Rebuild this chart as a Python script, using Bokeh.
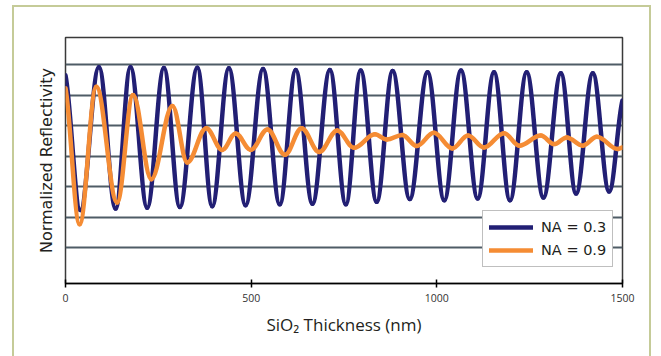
from bokeh.plotting import figure
from bokeh.models import Range1d, FixedTicker, Legend, LegendItem
from bokeh.embed import file_html
from bokeh.resources import INLINE

# ---- data (peaks / troughs of each curve, plus end points)
blue_x = [0, 40, 90, 135, 175, 220, 265, 308, 355, 395, 440, 485, 532, 577, 620, 665, 712,
          755, 795, 838, 881, 927, 975, 1020, 1065, 1110, 1154, 1197, 1242, 1287, 1334,
          1375, 1420, 1464, 1500]
blue_y = [0.665, 0.224, 0.692, 0.229, 0.692, 0.232, 0.689, 0.234, 0.690, 0.237, 0.688,
          0.240, 0.686, 0.243, 0.683, 0.245, 0.683, 0.243, 0.681, 0.251, 0.679, 0.260,
          0.675, 0.256, 0.681, 0.262, 0.675, 0.256, 0.675, 0.265, 0.672, 0.278, 0.672,
          0.285, 0.583]

orange_x = [0, 38, 83, 139, 182, 231, 288, 328, 379, 422, 458, 499, 544, 591, 636, 683,
            732, 777, 833, 865, 907, 946, 992, 1042, 1084, 1127, 1181, 1222, 1280, 1316,
            1350, 1393, 1431, 1487, 1500]
orange_y = [0.623, 0.178, 0.628, 0.249, 0.601, 0.325, 0.565, 0.380, 0.492, 0.421, 0.475,
            0.421, 0.488, 0.405, 0.492, 0.414, 0.485, 0.428, 0.472, 0.455, 0.470, 0.434,
            0.477, 0.426, 0.468, 0.429, 0.476, 0.435, 0.468, 0.440, 0.462, 0.435, 0.464,
            0.424, 0.429]

series_labels = ["NA = 0.3", "NA = 0.9"]
x_ticks = [0, 500, 1000, 1500]
grid_levels = [0.1, 0.2, 0.3, 0.4, 0.5, 0.6, 0.7]

BLUE = "#221f74"
ORANGE = "#f58c34"

p = figure(width=661, height=356, output_backend="svg", toolbar_location=None,
           x_range=Range1d(0, 1500), y_range=Range1d(-0.0162, 0.789))
p.min_border = 0
p.min_border_left = 65
p.min_border_right = 39
p.min_border_top = 37
p.min_border_bottom = 73
p.background_fill_color = "white"
p.border_fill_color = "white"
p.outline_line_color = "#3a3a3a"
p.outline_line_width = 1.5

# outer panel border (CSS only, drawn around the chart like the reference frame)
p.stylesheets = [
    ":host { position: relative; }"
    ":host::after { content: ''; position: absolute; left: 12px; top: 5px; right: 10px;"
    " bottom: 0px; border: 2px solid #c5cb98; border-bottom: none; pointer-events: none; }"
]

# grid
p.xgrid.grid_line_color = None
p.ygrid.ticker = FixedTicker(ticks=grid_levels)
p.ygrid.grid_line_color = "#4e5c66"
p.ygrid.grid_line_width = 2

# x axis
xa = p.xaxis[0]
xa.ticker = FixedTicker(ticks=x_ticks)
xa.minor_tick_line_color = None
xa.major_tick_in = 4
xa.major_tick_out = 4
xa.major_tick_line_color = "black"
xa.major_tick_line_width = 1.5
xa.axis_line_color = "black"
xa.axis_line_width = 1.5
xa.major_label_text_font = "Open Sans"
xa.major_label_text_font_size = "10.5px"
xa.major_label_text_color = "#333333"
xa.major_label_standoff = 6
xa.axis_label = "SiO\u2082 Thickness (nm)"
xa.axis_label_text_font = "Open Sans"
xa.axis_label_text_font_size = "17px"
xa.axis_label_text_font_style = "normal"
xa.axis_label_text_color = "#231f20"
xa.axis_label_standoff = 8

# y axis (label only)
ya = p.yaxis[0]
ya.ticker = FixedTicker(ticks=[])
ya.axis_line_color = None
ya.major_tick_line_color = None
ya.minor_tick_line_color = None
ya.axis_label = "Normalized Reflectivity"
ya.axis_label_text_font = "DejaVu Sans"
ya.axis_label_text_font_size = "16px"
ya.axis_label_text_font_style = "normal"
ya.axis_label_text_color = "#231f20"
ya.axis_label_standoff = 10

K = 0.364


def smooth_segments(xs, ys):
    n = len(xs)
    x0, y0, x1, y1, cx0, cy0, cx1, cy1 = [], [], [], [], [], [], [], []
    for i in range(n - 1):
        a, b = xs[i], xs[i + 1]
        ya_, yb = ys[i], ys[i + 1]
        dx = b - a
        x0.append(a); y0.append(ya_); x1.append(b); y1.append(yb)
        cx0.append(a + K * dx)
        cy0.append(ya_ if i > 0 else ya_ + 0.2 * (yb - ya_))
        cx1.append(b - K * dx)
        cy1.append(yb if i + 1 < n - 1 else yb - 0.2 * (yb - ya_))
    return dict(x0=x0, y0=y0, x1=x1, y1=y1, cx0=cx0, cy0=cy0, cx1=cx1, cy1=cy1)


bs = smooth_segments(blue_x, blue_y)
rb = p.bezier(source=bs, x0="x0", y0="y0", x1="x1", y1="y1", cx0="cx0", cy0="cy0",
              cx1="cx1", cy1="cy1", line_color=BLUE, line_width=4.5, line_cap="round")
os_ = smooth_segments(orange_x, orange_y)
ro = p.bezier(source=os_, x0="x0", y0="y0", x1="x1", y1="y1", cx0="cx0", cy0="cy0",
              cx1="cx1", cy1="cy1", line_color=ORANGE, line_width=4.5, line_cap="round")

legend = Legend(items=[LegendItem(label=series_labels[0], renderers=[rb], index=0),
                       LegendItem(label=series_labels[1], renderers=[ro], index=0)],
                location=(417, 16))
legend.label_text_font = "DejaVu Sans"
legend.label_text_font_size = "14.5px"
legend.label_text_color = "#231f20"
legend.glyph_width = 44
legend.glyph_height = 20
legend.label_height = 20
legend.label_standoff = 8
legend.spacing = 3
legend.padding = 6
legend.margin = 0
legend.border_line_color = "#7f7f7f"
legend.border_line_width = 1
legend.background_fill_color = "white"
legend.background_fill_alpha = 1
p.add_layout(legend, "center")

open("out.html", "w").write(file_html(p, INLINE))
